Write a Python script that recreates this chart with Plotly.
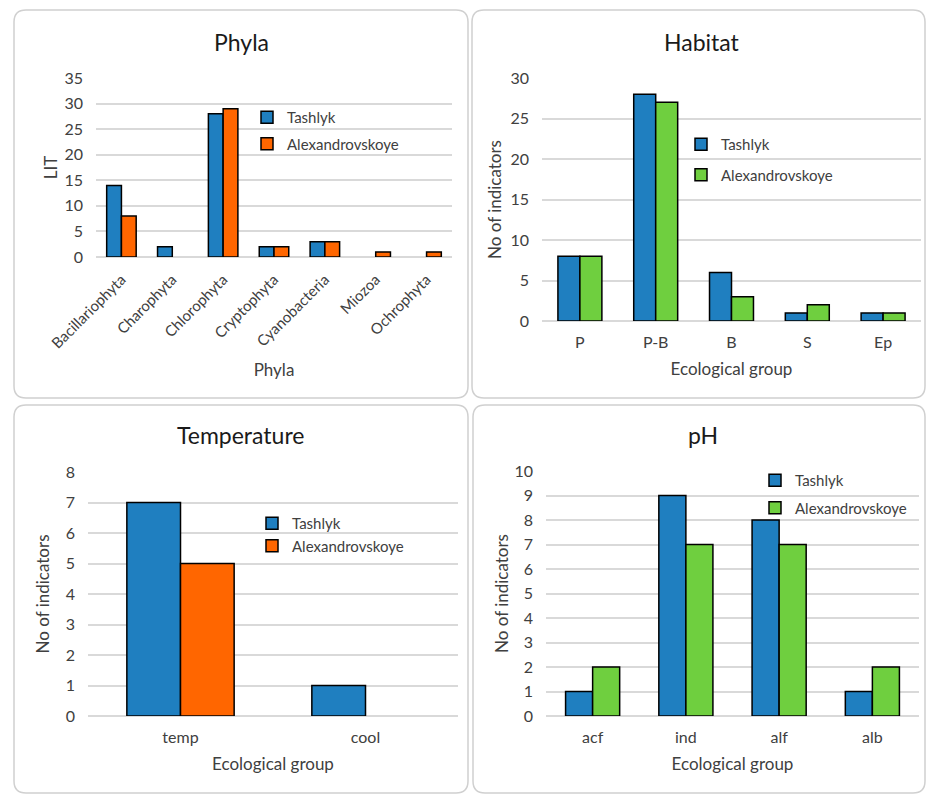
import plotly.graph_objects as go

W, H = 926, 795

# ---- data ----
phyla = ["Bacillariophyta", "Charophyta", "Chlorophyta", "Cryptophyta",
         "Cyanobacteria", "Miozoa", "Ochrophyta"]
phyla_tashlyk = [14, 2, 28, 2, 3, None, None]
phyla_alex = [8, None, 29, 2, 3, 1, 1]

habitat = ["P", "P-B", "B", "S", "Ep"]
habitat_tashlyk = [8, 28, 6, 1, 1]
habitat_alex = [8, 27, 3, 2, 1]

temperature = ["temp", "cool"]
temp_tashlyk = [7, 1]
temp_alex = [5, None]

ph = ["acf", "ind", "alf", "alb"]
ph_tashlyk = [1, 9, 8, 1]
ph_alex = [2, 7, 7, 2]

BLUE = "#1f7fc0"
ORANGE = "#ff6600"
GREEN = "#6fcf3f"
GRID = "#d9d9d9"
TXT = "#404040"
FONT = "Lato"


def px(x):
    return x / W


def py(y):
    return 1 - y / H


fig = go.Figure()

panels = [
    dict(cats=phyla, a=phyla_tashlyk, b=phyla_alex, col=ORANGE,
         x=(96, 452), y=(78, 257), ymax=35, dtick=5, title="Phyla",
         xt="Phyla", yt="LIT", angle=-45, xfs=15, xso=13, yso=2),
    dict(cats=habitat, a=habitat_tashlyk, b=habitat_alex, col=GREEN,
         x=(542, 921), y=(78, 321), ymax=30, dtick=5, title="Habitat",
         xt="Ecological group", yt="No of indicators", angle=0,
         xfs=16, xso=13, yso=4),
    dict(cats=temperature, a=temp_tashlyk, b=temp_alex, col=ORANGE,
         x=(88, 458), y=(472, 716), ymax=8, dtick=1, title="Temperature",
         xt="Ecological group", yt="No of indicators", angle=0,
         xfs=16, xso=13, yso=11),
    dict(cats=ph, a=ph_tashlyk, b=ph_alex, col=GREEN,
         x=(546, 919), y=(471, 716), ymax=10, dtick=1, title="pH",
         xt="Ecological group", yt="No of indicators", angle=0,
         xfs=16, xso=13, yso=1),
]

# legend anchor (left, top) in pixels and gap between entries
legend_pos = [(247, 101, 4), (681, 128, 8), (252, 507, 0), (755, 464, 5)]
title_pos = [(242, 42), (702, 42), (240, 435), (703, 435)]

for i, p in enumerate(panels):
    n = "" if i == 0 else str(i + 1)
    lg = "legend" if i == 0 else f"legend{i + 1}"
    for name, vals, col in (("Tashlyk", p["a"], BLUE), ("Alexandrovskoye", p["b"], p["col"])):
        fig.add_trace(go.Bar(
            x=p["cats"], y=vals, name=name,
            marker=dict(color=col, line=dict(color="black", width=1.5)),
            xaxis=f"x{n}", yaxis=f"y{n}", legend=lg,
            legendgroup=f"{lg}-{name}",
        ))
    fig.layout[f"xaxis{n}"] = dict(
        domain=[px(p["x"][0]), px(p["x"][1])], anchor=f"y{n}",
        automargin=False,
        showgrid=False, showline=False, ticks="", tickangle=p["angle"],
        ticklabelstandoff=10,
        tickfont=dict(size=p["xfs"], color=TXT, family=FONT),
        title=dict(text=p["xt"], font=dict(size=17, color=TXT, family=FONT),
                   standoff=p["xso"]),
    )
    fig.layout[f"yaxis{n}"] = dict(
        domain=[py(p["y"][1]), py(p["y"][0])], anchor=f"x{n}",
        automargin=False,
        range=[0, p["ymax"]], dtick=p["dtick"], showline=False,
        gridcolor=GRID, gridwidth=1.5, zeroline=True, zerolinecolor=GRID,
        zerolinewidth=1.5, ticks="", ticklabelstandoff=12,
        tickfont=dict(size=16, color=TXT, family=FONT),
        title=dict(text=p["yt"], font=dict(size=17, color=TXT, family=FONT),
                   standoff=p["yso"]),
    )
    lx, ly, gap = legend_pos[i]
    fig.layout[lg] = dict(
        x=px(lx), y=py(ly), xanchor="left", yanchor="top",
        bgcolor="rgba(0,0,0,0)", font=dict(size=15, color=TXT, family=FONT),
        tracegroupgap=gap, itemwidth=30,
    )
    tx, ty = title_pos[i]
    fig.add_annotation(
        x=px(tx), y=py(ty), xref="paper", yref="paper", showarrow=False,
        text=p["title"], font=dict(size=23, color="#1a1a1a", family=FONT),
        xanchor="center", yanchor="middle",
    )


def rounded_box(x0, y0, x1, y1, r=12):
    X0, X1 = px(x0), px(x1)
    Y0, Y1 = py(y0), py(y1)
    rx, ry = r / W, r / H
    return (f"M {X0 + rx},{Y0} L {X1 - rx},{Y0} Q {X1},{Y0} {X1},{Y0 - ry} "
            f"L {X1},{Y1 + ry} Q {X1},{Y1} {X1 - rx},{Y1} "
            f"L {X0 + rx},{Y1} Q {X0},{Y1} {X0},{Y1 + ry} "
            f"L {X0},{Y0 - ry} Q {X0},{Y0} {X0 + rx},{Y0} Z")


for box in [(14, 10, 468, 398), (472, 10, 925, 398),
            (14, 405, 468, 793), (473, 405, 925, 793)]:
    fig.add_shape(type="path", path=rounded_box(*box), xref="paper",
                  yref="paper", line=dict(color="#d0d0d0", width=1.5),
                  layer="below")

fig.update_layout(
    width=W, height=H, margin=dict(l=0, r=0, t=0, b=0),
    paper_bgcolor="white", plot_bgcolor="rgba(0,0,0,0)",
    barmode="group", bargap=0.42, bargroupgap=0,
    font=dict(family=FONT, color=TXT),
)

fig.write_html("out.html")
